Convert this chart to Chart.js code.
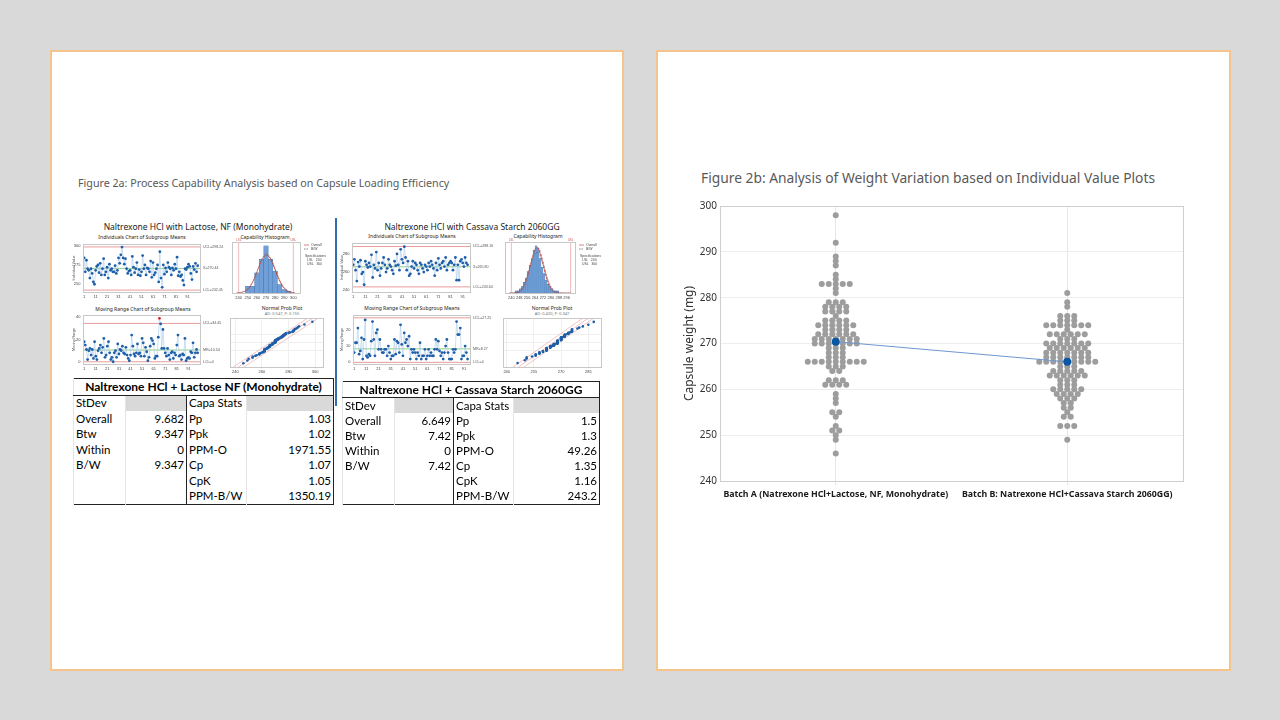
<!DOCTYPE html>
<html>
<head>
<meta charset="utf-8">
<script src="https://cdn.jsdelivr.net/npm/chart.js@4.4.1/dist/chart.umd.min.js"></script>
<style>
  body { margin: 0; width: 1280px; height: 720px; background: #d9d9d9; position: relative; overflow: hidden; font-family: 'Noto Sans', sans-serif; }
  .panel { position: absolute; background: #fff; border: 2px solid #f4c48c; box-sizing: border-box; }
  .txt { position: absolute; white-space: nowrap; transform: translate(-50%, -50%); color: #222; }
  canvas { position: absolute; }
  table { position: absolute; border-collapse: collapse; table-layout: fixed; font-family: Lato, sans-serif; font-size: 11.5px; color: #000; border: 1.5px solid #222; }
  td { padding: 0 2px; white-space: nowrap; overflow: hidden; border-left: 1px solid #e4e4e4; line-height: 14px; }
  td.th { text-align: center; font-weight: bold; border-bottom: 1px solid #222; font-size: 12px; }
  td.g { background: #d9d9d9; }
  td.bl { border-left: 1px solid #222; }
  td.n { text-align: right; }
</style>
</head>
<body>
<div class="panel" style="left:50px;top:50px;width:574px;height:621px;"></div>
<div class="panel" style="left:656px;top:50px;width:575px;height:621px;"></div>

<div style="position:absolute;left:78px;top:176px;font-size:10.7px;color:#595959;">Figure 2a: Process Capability Analysis based on Capsule Loading Efficiency</div>
<div style="position:absolute;left:701px;top:168px;font-size:13.8px;color:#595959;">Figure 2b: Analysis of Weight Variation based on Individual Value Plots</div>

<!-- left half of figure 2a -->
<div class="txt" style="left:198px;top:226px;font-size:8.5px;">Naltrexone HCl with Lactose, NF (Monohydrate)</div>
<div class="txt" style="left:142px;top:237px;font-size:5px;">Individuals Chart of Subgroup Means</div>
<div class="txt" style="left:265px;top:237px;font-size:5px;">Capability Histogram</div>
<div class="txt" style="left:143px;top:309px;font-size:5px;">Moving Range Chart of Subgroup Means</div>
<div class="txt" style="left:282px;top:308px;font-size:5px;">Normal Prob Plot</div>
<div class="txt" style="left:282px;top:313px;font-size:4px;color:#777;">AD: 0.547, P: 0.155</div>

<!-- right half of figure 2a -->
<div class="txt" style="left:472px;top:226px;font-size:8.5px;">Naltrexone HCl with Cassava Starch 2060GG</div>
<div class="txt" style="left:412px;top:236px;font-size:5px;">Individuals Chart of Subgroup Means</div>
<div class="txt" style="left:538px;top:236px;font-size:5px;">Capability Histogram</div>
<div class="txt" style="left:412px;top:308px;font-size:5px;">Moving Range Chart of Subgroup Means</div>
<div class="txt" style="left:552px;top:308px;font-size:5px;">Normal Prob Plot</div>
<div class="txt" style="left:552px;top:313px;font-size:4px;color:#777;">AD: 0.400, P: 0.347</div>

<div style="position:absolute;left:335px;top:218px;width:1.5px;height:188px;background:#2f6fad;"></div>

<canvas id="indA" width="160" height="62" style="left:72px;top:240px;"></canvas>
<canvas id="histA" width="102" height="64" style="left:228px;top:238px;"></canvas>
<canvas id="mrA" width="160" height="62" style="left:72px;top:311px;"></canvas>
<canvas id="nppA" width="104" height="62" style="left:226px;top:314px;"></canvas>

<canvas id="indB" width="165" height="62" style="left:340px;top:239px;"></canvas>
<canvas id="histB" width="104" height="64" style="left:501px;top:238px;"></canvas>
<canvas id="mrB" width="165" height="62" style="left:340px;top:311px;"></canvas>
<canvas id="nppB" width="106" height="62" style="left:499px;top:314px;"></canvas>

<table id="tabA" style="left:73px;top:378px;width:260px;height:127px;"></table>
<table id="tabB" style="left:342px;top:381px;width:257px;height:124px;"></table>

<canvas id="mainChart" width="560" height="320" style="left:660px;top:190px;"></canvas>

<script>
// ---- Figure 2b: individual value plot ----
const batchLabels = ['Batch A (Natrexone HCl+Lactose, NF, Monohydrate)', 'Batch B: Natrexone HCl+Cassava Starch 2060GG)'];
const batchMeans = [270.4, 266.0];
const weightsA = [298, 292, 289, 288, 287, 285, 284, 283, 282, 281, 279, 278, 277, 276, 275, 274, 273, 272, 271, 270, 269, 268, 267, 266, 265, 264, 262, 261, 259, 258, 257, 255, 254, 252, 251, 250, 249, 246];
const countsA  = [1, 1, 1, 1, 1, 1, 1, 5, 1, 1, 3, 4, 4, 1, 4, 6, 4, 6, 7, 7, 3, 3, 3, 9, 3, 2, 3, 4, 1, 1, 1, 2, 1, 1, 2, 1, 1, 1];
const weightsB = [281, 279, 278, 276, 275, 274, 273, 272, 271, 270, 269, 268, 267, 266, 265, 264, 263, 262, 261, 260, 259, 258, 257, 256, 255, 254, 252, 249];
const countsB  = [1, 1, 1, 3, 3, 7, 1, 6, 3, 7, 6, 7, 7, 9, 3, 5, 6, 3, 3, 5, 4, 3, 2, 2, 1, 2, 3, 1];
const weightTicks = [240, 250, 260, 270, 280, 290, 300];

// ---- Figure 2a: capability analysis ----
const indA = [284, 266, 281, 270, 268, 258, 270, 264, 253, 250,
              268, 273, 275, 265, 277, 262, 270, 283, 262, 266,
              272, 258, 276, 268, 270, 266, 266, 274, 264, 268,
              284, 277, 288, 298, 284, 276, 283, 270, 264, 267,
              268, 262, 286, 272, 265, 270, 278, 262, 269, 261,
              266, 287, 270, 275, 262, 271, 270, 266, 280, 259,
              278, 262, 265, 270, 275, 253, 292, 258, 246, 275,
              263, 271, 266, 278, 272, 270, 262, 271, 268, 276,
              270, 285, 261, 266, 260, 262, 255, 249, 270, 269,
              272, 276, 273, 264, 256, 273, 269, 277, 266, 274];
const indB = [268, 274, 262, 250, 271, 266, 273, 258, 260, 246,
              272, 268, 265, 270, 266, 279, 254, 268, 264, 282,
              262, 270, 256, 264, 270, 276, 268, 260, 264, 274,
              268, 266, 262, 258, 272, 267, 280, 268, 262, 285,
              274, 270, 288, 276, 262, 272, 256, 258, 266, 272,
              264, 270, 268, 262, 258, 270, 268, 264, 260, 268,
              266, 262, 270, 266, 272, 268, 264, 256, 270, 262,
              275, 268, 264, 270, 272, 266, 276, 262, 268, 270,
              272, 270, 262, 268, 276, 251, 268, 251, 272, 274,
              270, 266, 276, 270, 268];
const ctrlA = [298.24, 270.44, 242.45];   // UCL, centre, LCL
const mrCtrlA = [34.45, 10.54, 0];
const ctrlB = [288.16, 265.80, 243.64];
const mrCtrlB = [27.25, 8.27, 0];
const histCentersA = [250, 255, 260, 265, 270, 275, 280, 285, 290, 295];
const histCountsA  = [4, 4, 12, 20, 28, 20, 13, 5, 2, 1];
const histCentersB = [245, 247, 249, 251, 253, 255, 257, 259, 261, 263, 265, 267, 269, 271, 273, 275, 277, 279, 281, 283, 285, 287];
const histCountsB  = [1, 1, 2, 3, 5, 7, 10, 13, 16, 20, 22, 21, 16, 12, 9, 6, 4, 3, 2, 1, 1, 1];
const specLimits = [240, 300];
const sdA = [9.682, 9.347];   // overall, B/W
const sdB = [6.649, 7.42];

const stdevLabels = ['Overall', 'Btw', 'Within', 'B/W'];
const capaLabels = ['Pp', 'Ppk', 'PPM-O', 'Cp', 'CpK', 'PPM-B/W'];
const stdevA = ['9.682', '9.347', '0', '9.347'];
const capaA = ['1.03', '1.02', '1971.55', '1.07', '1.05', '1350.19'];
const stdevB = ['6.649', '7.42', '0', '7.42'];
const capaB = ['1.5', '1.3', '49.26', '1.35', '1.16', '243.2'];

Chart.defaults.animation = false;
Chart.defaults.events = [];
Chart.defaults.plugins.legend.display = false;
Chart.defaults.plugins.tooltip.enabled = false;

// lines, labels and frame drawn around the plot area
const marksPlugin = {
  id: 'marks',
  beforeDatasetsDraw(chart, args, opts) {
    const { ctx, chartArea: a, scales } = chart;
    ctx.save();
    (opts.hlines || []).forEach(l => {
      const y = scales.y.getPixelForValue(l.value);
      ctx.strokeStyle = l.color; ctx.lineWidth = l.width || 0.7; ctx.setLineDash(l.dash || []);
      ctx.beginPath(); ctx.moveTo(a.left, y); ctx.lineTo(a.right, y); ctx.stroke();
      if (l.label) {
        ctx.setLineDash([]); ctx.fillStyle = '#555'; ctx.font = '3.6px "Liberation Sans"';
        ctx.textBaseline = 'middle'; ctx.textAlign = 'left';
        ctx.fillText(l.label, a.right + 3, y);
      }
    });
    (opts.vlines || []).forEach(l => {
      const x = scales.x.getPixelForValue(l.value);
      ctx.strokeStyle = l.color; ctx.lineWidth = l.width || 0.7; ctx.setLineDash(l.dash || []);
      ctx.beginPath(); ctx.moveTo(x, a.top); ctx.lineTo(x, a.bottom); ctx.stroke();
      if (l.label) {
        ctx.setLineDash([]); ctx.fillStyle = '#c55'; ctx.font = '3px "Liberation Sans"';
        ctx.textAlign = 'center'; ctx.textBaseline = 'bottom';
        ctx.fillText(l.label, x, a.top - 0.5);
      }
    });
    ctx.restore();
  },
  afterDraw(chart, args, opts) {
    const { ctx, chartArea: a } = chart;
    ctx.save();
    if (opts.frame) {
      ctx.strokeStyle = opts.frame; ctx.lineWidth = 1; ctx.setLineDash([]);
      ctx.strokeRect(Math.round(a.left) + 0.5, Math.round(a.top) + 0.5, Math.round(a.right - a.left), Math.round(a.bottom - a.top));
    }
    (opts.notes || []).forEach(n => {
      const x = a.right + n.dx, y = a.top + n.dy;
      if (n.line) {
        ctx.strokeStyle = n.line.color; ctx.lineWidth = 0.7; ctx.setLineDash(n.line.dash || []);
        ctx.beginPath(); ctx.moveTo(x, y); ctx.lineTo(x + 5, y); ctx.stroke();
        ctx.setLineDash([]);
      }
      ctx.fillStyle = '#444'; ctx.font = (n.size || 3.4) + 'px "Liberation Sans"';
      ctx.textAlign = 'left'; ctx.textBaseline = 'middle';
      ctx.fillText(n.text, x + (n.line ? 7 : 0), y);
    });
    ctx.restore();
  }
};
Chart.register(marksPlugin);

const tiny = { family: 'Liberation Sans', size: 4 };

function fixAxis(prop, size) {
  return s => { s[prop] = size; };
}

function controlChart(id, series, limits, yMin, yMax, yTicks, pad, yTitle, yW) {
  const pts = series.map((v, i) => ({ x: i + 1, y: v }));
  const colors = series.map(v => (v > limits[0] ? '#e02020' : '#1f5fa8'));
  new Chart(document.getElementById(id), {
    type: 'line',
    data: { datasets: [{ data: pts, borderColor: '#a9c9ea', borderWidth: 0.6, pointRadius: 1.4, pointBorderWidth: 0, pointBackgroundColor: colors, tension: 0 }] },
    options: {
      responsive: false,
      layout: { padding: pad },
      scales: {
        x: { type: 'linear', min: 0, max: series.length + 2, afterFit: fixAxis('height', 9),
             afterBuildTicks: s => { s.ticks = [1, 11, 21, 31, 41, 51, 61, 71, 81, 91].map(v => ({ value: v })); },
             grid: { display: false, drawTicks: true, tickLength: 1.5, color: '#999' }, border: { color: '#bbb' },
             ticks: { font: tiny, color: '#444', padding: 1, maxRotation: 0, autoSkip: false } },
        y: { min: yMin, max: yMax, afterFit: fixAxis('width', yW),
             afterBuildTicks: s => { s.ticks = yTicks.map(v => ({ value: v })); },
             grid: { display: false, tickLength: 1.5 }, border: { color: '#bbb' },
             title: { display: true, text: yTitle, font: { family: 'Liberation Sans', size: 3.6 }, color: '#444', padding: 0 },
             ticks: { font: tiny, color: '#444', padding: 1 } }
      },
      plugins: {
        marks: {
          frame: '#c8c8c8',
          hlines: [
            { value: limits[0], color: '#e07070', label: 'UCL=' + limits[0].toFixed(2) },
            { value: limits[1], color: '#5cb85c', label: (yTitle === 'Moving Range' ? 'MR=' : 'X=') + limits[1].toFixed(2) },
            { value: limits[2], color: '#e07070', label: 'LCL=' + (limits[2] === 0 ? '0' : limits[2].toFixed(2)) }
          ]
        }
      }
    }
  });
}

function movingRange(series) {
  const out = [];
  for (let i = 1; i < series.length; i++) out.push(Math.abs(series[i] - series[i - 1]));
  return out;
}

function normalPdf(x, m, s) {
  return Math.exp(-0.5 * ((x - m) / s) ** 2) / (s * Math.sqrt(2 * Math.PI));
}

function histChart(id, centers, counts, mean, sds, xMin, xMax, xTicks, pad) {
  const binW = centers[1] - centers[0];
  const total = counts.reduce((a, b) => a + b, 0) * binW;
  const curve = sd => {
    const pts = [];
    for (let x = xMin; x <= xMax; x += 0.5) pts.push({ x: x, y: total * normalPdf(x, mean, sd) });
    return pts;
  };
  const peak = Math.max(...counts, total * normalPdf(mean, mean, Math.min(...sds)));
  new Chart(document.getElementById(id), {
    data: {
      datasets: [
        { type: 'line', data: curve(sds[0]), borderColor: '#c0504d', borderWidth: 0.7, pointRadius: 0, order: 0 },
        { type: 'line', data: curve(sds[1]), borderColor: '#555', borderWidth: 0.5, borderDash: [1.5, 1], pointRadius: 0, order: 1 },
        { type: 'bar', data: centers.map((c, i) => ({ x: c, y: counts[i] })), backgroundColor: '#6f9fd6', borderColor: '#3d6ea8', borderWidth: 0.4, barPercentage: 1, categoryPercentage: 1, order: 2 }
      ]
    },
    options: {
      responsive: false,
      layout: { padding: pad },
      scales: {
        x: { type: 'linear', min: xMin, max: xMax, afterFit: fixAxis('height', 9),
             afterBuildTicks: s => { s.ticks = xTicks.map(v => ({ value: v })); },
             grid: { display: false, tickLength: 1.5 }, border: { color: '#bbb' },
             ticks: { font: tiny, color: '#444', padding: 1, maxRotation: 0, autoSkip: false } },
        y: { min: 0, max: peak * 1.08, display: false }
      },
      plugins: {
        marks: {
          frame: '#c8c8c8',
          vlines: specLimits.map((v, i) => ({ value: v, color: '#e08a8a', width: 0.6, label: i === 0 ? 'LSL' : 'USL' })),
          notes: [
            { text: 'Overall', dx: 4, dy: 3, line: { color: '#c0504d' } },
            { text: 'B/W', dx: 4, dy: 7, line: { color: '#555', dash: [1.5, 1] } },
            { text: 'Specifications', dx: 5, dy: 14 },
            { text: 'LSL   ' + specLimits[0], dx: 7, dy: 18 },
            { text: 'USL   ' + specLimits[1], dx: 7, dy: 22 }
          ]
        }
      }
    }
  });
}

// inverse normal approximation for probability plot positions
function probit(p) {
  const q = p < 0.5 ? p : 1 - p;
  const t = Math.sqrt(-2 * Math.log(q));
  const z = t - (2.515517 + 0.802853 * t + 0.010328 * t * t) / (1 + 1.432788 * t + 0.189269 * t * t + 0.001308 * t * t * t);
  return p < 0.5 ? -z : z;
}

function probChart(id, series, mean, sd, xMin, xMax, xTicks, band, pad) {
  const sorted = series.slice().sort((a, b) => a - b);
  const n = sorted.length;
  const pts = sorted.map((v, i) => ({ x: v, y: probit((i + 0.7) / (n + 0.4)) }));
  const fit = off => [-3.5, 3.5].map(z => ({ x: mean + sd * z + off, y: z }));
  new Chart(document.getElementById(id), {
    type: 'scatter',
    data: {
      datasets: [
        { data: pts, pointRadius: 1.3, pointBorderWidth: 0, pointBackgroundColor: '#1f5fa8', order: 0 },
        { type: 'line', data: fit(-band), borderColor: '#e58a8a', borderWidth: 0.5, pointRadius: 0, order: 1 },
        { type: 'line', data: fit(band), borderColor: '#e58a8a', borderWidth: 0.5, pointRadius: 0, order: 1 },
        { type: 'line', data: fit(0), borderColor: '#e05a5a', borderWidth: 0.4, pointRadius: 0, order: 1 }
      ]
    },
    options: {
      responsive: false,
      layout: { padding: pad },
      scales: {
        x: { type: 'linear', min: xMin, max: xMax, afterFit: fixAxis('height', 9),
             afterBuildTicks: s => { s.ticks = xTicks.map(v => ({ value: v })); },
             grid: { color: '#efefef', tickLength: 1.5 }, border: { color: '#bbb' },
             ticks: { font: tiny, color: '#444', padding: 1, maxRotation: 0, autoSkip: false } },
        y: { min: -2.9, max: 2.9, afterFit: fixAxis('width', 0.1),
             grid: { color: '#efefef', drawTicks: false }, border: { display: false },
             ticks: { display: false, stepSize: 1 } }
      },
      plugins: { marks: { frame: '#c8c8c8' } }
    }
  });
}

controlChart('indA', indA, ctrlA, 240, 302, [250, 275, 300], { left: 0, right: 32, top: 3, bottom: 1 }, 'Individual Value', 11);
controlChart('mrA', movingRange(indA), mrCtrlA, -2, 42, [0, 20, 40], { left: 0, right: 32, top: 4, bottom: 0 }, 'Moving Range', 11);
histChart('histA', histCentersA, histCountsA, ctrlA[1], sdA, 238, 302, [240, 250, 260, 270, 280, 290, 300], { left: 4, right: 30, top: 4, bottom: 0 });
probChart('nppA', indA, ctrlA[1], sdA[0], 236, 306, [240, 260, 280, 300], 4, { left: 4, right: 7, top: 3, bottom: 0 });

controlChart('indB', indB, ctrlB, 238, 292, [240, 260, 280], { left: 0, right: 35, top: 3, bottom: 0 }, 'Individual Value', 12);
controlChart('mrB', movingRange(indB), mrCtrlB, -1, 29, [0, 10, 20], { left: 0, right: 35, top: 4, bottom: 0 }, 'Moving Range', 13);
histChart('histB', histCentersB, histCountsB, ctrlB[1], sdB, 238, 300, [240, 248, 256, 264, 272, 280, 288, 296], { left: 4, right: 30, top: 4, bottom: 0 });
probChart('nppB', indB, ctrlB[1], sdB[0], 238, 292, [240, 255, 270, 285], 3, { left: 4, right: 3, top: 3, bottom: 0 });

function buildTable(id, title, stdevVals, capaVals, cols) {
  let h = '<colgroup>' + cols.map(w => `<col style="width:${w}px">`).join('') + '</colgroup>';
  h += `<tr><td colspan="4" class="th">${title}</td></tr>`;
  h += '<tr><td>StDev</td><td class="g"></td><td class="bl">Capa Stats</td><td class="g"></td></tr>';
  for (let i = 0; i < capaLabels.length; i++) {
    h += `<tr><td>${stdevLabels[i] || ''}</td><td class="n">${stdevVals[i] || ''}</td>` +
         `<td class="bl">${capaLabels[i]}</td><td class="n">${capaVals[i]}</td></tr>`;
  }
  document.getElementById(id).innerHTML = h;
}
buildTable('tabA', 'Naltrexone HCl + Lactose NF (Monohydrate)', stdevA, capaA, [52, 61, 60, 87]);
buildTable('tabB', 'Naltrexone HCl + Cassava Starch 2060GG', stdevB, capaB, [52, 59, 60, 86]);

// ---- main individual value plot ----
const catPos = [0.25, 0.75];
const dotStep = 7 / 463;

function swarm(values, counts, center) {
  const pts = [];
  values.forEach((v, i) => {
    const n = counts[i];
    for (let k = 0; k < n; k++) pts.push({ x: center + (k - (n - 1) / 2) * dotStep, y: v });
  });
  return pts;
}

const framePlugin = {
  id: 'frame',
  afterDraw(chart) {
    const { ctx, chartArea: a } = chart;
    ctx.save();
    ctx.strokeStyle = '#cfcfcf'; ctx.lineWidth = 1;
    ctx.strokeRect(Math.round(a.left) + 0.5, Math.round(a.top) + 0.5, Math.round(a.right - a.left), Math.round(a.bottom - a.top));
    ctx.restore();
  }
};

new Chart(document.getElementById('mainChart'), {
  type: 'scatter',
  data: {
    datasets: [
      { type: 'line', data: catPos.map((c, i) => ({ x: c, y: batchMeans[i] })), borderColor: '#6e97d2', borderWidth: 1,
        pointRadius: 4, pointBorderWidth: 0, pointBackgroundColor: '#0a57a6', order: 0 },
      { data: swarm(weightsA, countsA, catPos[0]), pointRadius: 3, pointBorderWidth: 0, pointBackgroundColor: '#9d9d9d', order: 1 },
      { data: swarm(weightsB, countsB, catPos[1]), pointRadius: 3, pointBorderWidth: 0, pointBackgroundColor: '#9d9d9d', order: 1 }
    ]
  },
  options: {
    responsive: false,
    layout: { padding: { left: 0, right: 37, top: 16, bottom: 0 } },
    scales: {
      x: {
        type: 'linear', min: 0, max: 1,
        afterFit: fixAxis('height', 29),
        afterBuildTicks: s => { s.ticks = catPos.map(v => ({ value: v })); },
        grid: { color: '#e6e6e6', tickLength: 4 },
        border: { color: '#cfcfcf' },
        ticks: { callback: (v, i) => batchLabels[i], autoSkip: false, maxRotation: 0, minRotation: 0, padding: 4,
                 color: '#1a1a1a', font: { family: 'Noto Sans', size: 8.8, weight: 'bold' } }
      },
      y: {
        min: 240, max: 300,
        afterFit: fixAxis('width', 60),
        afterBuildTicks: s => { s.ticks = weightTicks.map(v => ({ value: v })); },
        grid: { color: '#ededed', drawTicks: false },
        border: { color: '#cfcfcf' },
        title: { display: true, text: 'Capsule weight (mg)', color: '#333', font: { family: 'Noto Sans', size: 12 }, padding: { top: 22, bottom: 0 } },
        ticks: { color: '#333', padding: 3, font: { family: 'Noto Sans', size: 10 } }
      }
    }
  },
  plugins: [framePlugin]
});
</script>
</body>
</html>
